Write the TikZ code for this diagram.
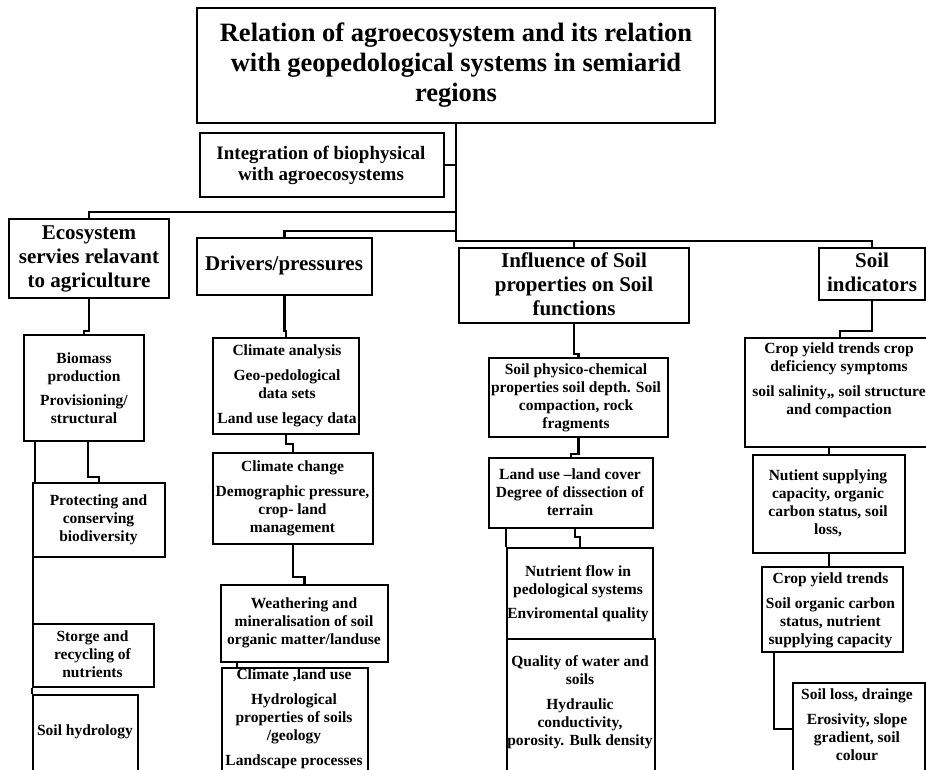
\documentclass[tikz,border=0pt]{standalone}
\usepackage{fontspec}
\setmainfont{Liberation Serif}
\usetikzlibrary{fit}
\tikzset{
  box/.style={draw, line width=2.5pt, inner sep=0pt},
  conn/.style={draw, line width=2.5pt},
  tx/.style={align=center, inner sep=0pt, font=\fontsize{15.5}{18}\selectfont\bfseries},
  hd/.style={align=center, inner sep=0pt, font=\fontsize{21}{24}\selectfont\bfseries},
  ttl/.style={align=center, inner sep=0pt, font=\fontsize{26.5}{30}\selectfont\bfseries},
  itg/.style={align=center, inner sep=0pt, font=\fontsize{19}{21}\selectfont\bfseries},
}
\begin{document}
\begin{tikzpicture}[x=1pt,y=-1pt]
\useasboundingbox (0,0) rectangle (926,769);
% boxes
\node[box, fit={(197,8) (715,123)}] (title) {};
\node[box, fit={(200,133) (444,197)}] (integ) {};
\node[box, fit={(9,219) (169,298)}] (eco) {};
\node[box, fit={(197,238) (372,295)}] (drv) {};
\node[box, fit={(459,248) (689,323)}] (infl) {};
\node[box, fit={(819,248) (925,300)}] (ind) {};
\node[box, fit={(24,335) (144,441)}] (bio) {};
\node[box, fit={(33,483) (165,557)}] (prot) {};
\node[box, fit={(33,624) (154,687)}] (stor) {};
\node[box, fit={(33,695) (138,775)}] (hyd) {};
\node[box, fit={(213,338) (359,434)}] (clim) {};
\node[box, fit={(213,453) (373,544)}] (chg) {};
\node[box, fit={(221,585) (388,662)}] (wth) {};
\node[box, fit={(222,668) (368,775)}] (clu) {};
\node[box, fit={(489,358) (668,437)}] (phys) {};
\node[box, fit={(489,458) (653,528)}] (luc) {};
\node[box, fit={(507,548) (653,639)}] (nut) {};
\node[box, fit={(507,639) (655,775)}] (qual) {};
\node[box, fit={(745,338) (927,447)}] (cy1) {};
\node[box, fit={(753,455) (905,553)}] (nsc) {};
\node[box, fit={(762,567) (903,652)}] (cy2) {};
\node[box, fit={(793,683) (925,775)}] (sl) {};
% texts
\node[ttl] (title-t) at (456,65) {Relation of agroecosystem and its relation\\with geopedological systems in semiarid\\regions};
\node[itg] (integ-t) at (321,165.5) {Integration of biophysical\\with agroecosystems};
\node[hd] (eco-t) at (89,259) {Ecosystem\\servies relavant\\to agriculture};
\node[hd] (drv-t) at (284,265) {Drivers/pressures};
\node[hd] (infl-t) at (574,284) {Influence of Soil\\properties on Soil\\functions};
\node[hd] (ind-t) at (872,272.5) {Soil\\indicators};
\node[tx] (bio-t) at (84,388) {Biomass\\production\\[6pt]Provisioning/\\structural};
\node[tx] (prot-t) at (98.5,520) {Protecting and\\conserving\\biodiversity};
\node[tx] (stor-t) at (92.5,654) {Storge and\\recycling of\\nutrients};
\node[tx] (hyd-t) at (85,732) {Soil hydrology};
\node[tx] (clim-t) at (287,386) {Climate analysis\\[7pt]Geo-pedological\\data sets\\[7pt]Land use legacy data};
\node[tx] (chg-t) at (292.5,498.5) {Climate change\\[7pt]Demographic pressure,\\crop- land\\management};
\node[tx] (wth-t) at (304,623) {Weathering and\\mineralisation of soil\\organic matter/landuse};
\node[tx] (clu-t) at (294,718.5) {Climate ,land use\\[7pt]Hydrological\\properties of soils\\/geology\\[7pt]Landscape processes};
\node[tx] (phys-t) at (576,398) {Soil physico-chemical\\properties soil depth. Soil\\compaction, rock\\fragments};
\node[tx] (luc-t) at (570,492) {Land use –land cover\\Degree of dissection of\\terrain};
\node[tx] (nut-t) at (578,593.5) {Nutrient flow in\\pedological systems\\[6pt]Enviromental quality};
\node[tx] (qual-t) at (580,702) {Quality of water and\\soils\\[7pt]Hydraulic\\conductivity,\\porosity. Bulk density};
\node[tx] (cy1-t) at (839,380.5) {Crop yield trends crop\\deficiency symptoms\\[7pt]soil salinity,, soil structure\\and compaction};
\node[tx] (nsc-t) at (828,503.5) {Nutient supplying\\capacity, organic\\carbon status, soil\\loss,};
\node[tx] (cy2-t) at (830.5,610.5) {Crop yield trends\\[7pt]Soil organic carbon\\status, nutrient\\supplying capacity};
\node[tx] (sl-t) at (857,725) {Soil loss, drainge\\[7pt]Erosivity, slope\\gradient, soil\\colour};
% connectors - top level
\draw[conn] (integ.east) -- (integ.east -| title.south);
\draw[conn] (eco.north) -- ++(0pt,6pt) -| (title.south);
\draw[conn] (drv.north) -- ++(0pt,6pt) -| (title.south);
\draw[conn] (ind.north) -- ++(0pt,6pt) -| (title.south);
\draw[conn] (infl.north) -- ++(0pt,6pt);
% column 1
\draw[conn] (eco.south) |- ([yshift=3pt]bio.north) -- (bio.north);
\draw[conn] ([xshift=4pt]bio.south) |- ([yshift=5pt]prot.north) -- (prot.north);
\draw[conn] ([xshift=12pt]bio.south west) -- ([xshift=3pt]prot.north west);
\draw[conn] ([xshift=1pt]prot.south west) -- ([xshift=1pt]stor.north west);
\draw[conn] (stor.south west) -- (hyd.north west);
% column 2
\draw[conn] (drv.south) |- ([yshift=6pt]clim.north) -- (clim.north);
\draw[conn] (clim.south) |- ([yshift=8pt]chg.north) -- (chg.north);
\draw[conn] (chg.south) |- ([yshift=7pt]wth.north) -- (wth.north);
\draw[conn] ([xshift=17pt]wth.south west) -- ([xshift=16pt]clu.north west);
% column 3
\draw[conn] (infl.south) |- ([yshift=3pt]phys.north) -- (phys.north);
\draw[conn] (phys.south) |- ([yshift=3pt]luc.north) -- (luc.north);
\draw[conn] ([xshift=18pt]luc.south west) -- (nut.north west);
\draw[conn] ([xshift=4pt]luc.south) |- ([yshift=10pt]nut.north) -- (nut.north);
% column 4
\draw[conn] (ind.south) |- ([xshift=4pt,yshift=6pt]cy1.north) -- ([xshift=4pt]cy1.north);
\draw[conn] (nsc.north) -- (nsc.north |- cy1.south);
\draw[conn] (nsc.south) -- (nsc.south |- cy2.north);
\draw[conn] ([xshift=13pt]cy2.south west) |- (sl.west);
\end{tikzpicture}
\end{document}
